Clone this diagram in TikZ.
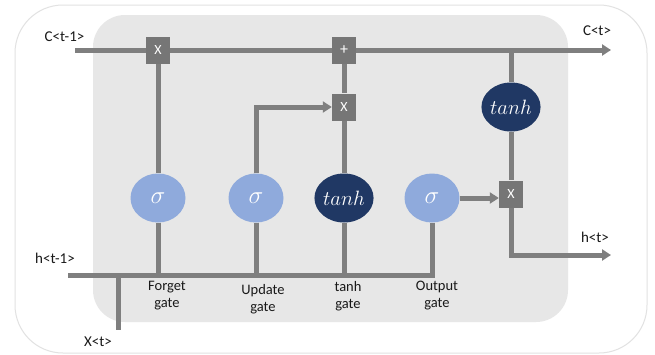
\documentclass[tikz,border=0pt]{standalone}
\usepackage{fontspec}
\setmainfont{Carlito}
\usetikzlibrary{arrows.meta,shapes.geometric}
\definecolor{linegray}{HTML}{7F7F7F}
\definecolor{boxgray}{HTML}{767676}
\definecolor{bggray}{HTML}{E7E7E7}
\definecolor{sigblue}{HTML}{8FAADC}
\definecolor{navy}{HTML}{203864}
\definecolor{outline}{HTML}{E2E2E2}
\tikzset{
  conn/.style={draw=linegray, line width=5pt},
  arr/.style={conn, -{Triangle[length=9pt,width=11pt]}},
  opbox/.style={fill=boxgray, minimum width=24pt, minimum height=27pt, inner sep=0pt, text=white, font=\fontsize{14}{16}\selectfont},
  sig/.style={ellipse, fill=sigblue, minimum width=55pt, minimum height=49pt, inner sep=0pt, text=white, font=\fontsize{25}{27}\selectfont},
  th/.style={ellipse, fill=navy, minimum width=55pt, minimum height=49pt, inner sep=0pt, text=white, font=\fontsize{21.5}{23}\selectfont},
  lbl/.style={font=\fontsize{15}{17}\selectfont, text=black!90, inner sep=0pt},
  gatelbl/.style={font=\fontsize{14.5}{17}\selectfont, text=black!90, align=center, inner sep=0pt, anchor=north},
}
\begin{document}
\begin{tikzpicture}[x=1pt,y=-1pt]
\useasboundingbox (0,0) rectangle (655,354);
\fill[white] (0,0) rectangle (655,354);
\draw[outline, line width=1pt, rounded corners=48pt] (15,5) rectangle (647,353);
\fill[bggray, rounded corners=32pt] (93,15) rectangle (568,322);

% nodes
\node[opbox] (m1) at (158,50) {X};
\node[opbox] (plus) at (344,50) {\fontsize{16}{18}\selectfont +};
\node[opbox] (m2) at (344,107) {X};
\node[th] (tc) at (511,107) {$tanh$};
\node[opbox] (m3) at (511,194) {X};
\node[sig] (sf) at (158,198) {$\sigma$};
\node[sig] (su) at (256,198) {$\sigma$};
\node[th] (tg) at (344,198) {$tanh$};
\node[sig] (so) at (432,198) {$\sigma$};

\coordinate (cin) at (75,50);
\coordinate (cout) at (611,50);
\coordinate (jc) at (511,50);
\coordinate (hin) at (68,275);
\coordinate (hout) at (611,255);
\coordinate (xt) at (118,275);
\coordinate (xtend) at (118,330);

% connectors
\draw[conn] (cin) -- (m1.west);
\draw[conn] (m1.east) -- (plus.west);
\draw[arr] (plus.east) -- (cout);
\draw[conn] (m1.south) -- (sf.north);
\draw[conn] (plus.south) -- (m2.north);
\draw[conn] (m2.south) -- (tg.north);
\draw[arr] (su.north) |- (m2.west);
\draw[conn] (jc) -- (tc.north);
\draw[conn] (tc.south) -- (m3.north);
\draw[arr] (so.east) -- (so.east -| m3.west);
\draw[arr] (m3.south) |- (hout);
\draw[conn] (hin) -| (so.south);
\draw[conn] (sf.south) -- (sf.south |- hin);
\draw[conn] (su.south) -- (su.south |- hin);
\draw[conn] (tg.south) -- (tg.south |- hin);
\draw[conn] (xt) -- (xtend);

% labels
\node[lbl] (lcin) at (64.5,37) {C<t-1>};
\node[lbl] (lcout) at (597,31) {C<t>};
\node[lbl] (lhout) at (595,237) {h<t>};
\node[lbl] (lhin) at (55,258) {h<t-1>};
\node[lbl] (lxt) at (98,342) {X<t>};
\node[gatelbl] (gf) at (167,281) {Forget\\gate};
\node[gatelbl] (gu) at (263,284) {Update\\gate};
\node[gatelbl] (gt) at (348,281) {tanh\\gate};
\node[gatelbl] (go) at (437,281) {Output\\gate};
\end{tikzpicture}
\end{document}
